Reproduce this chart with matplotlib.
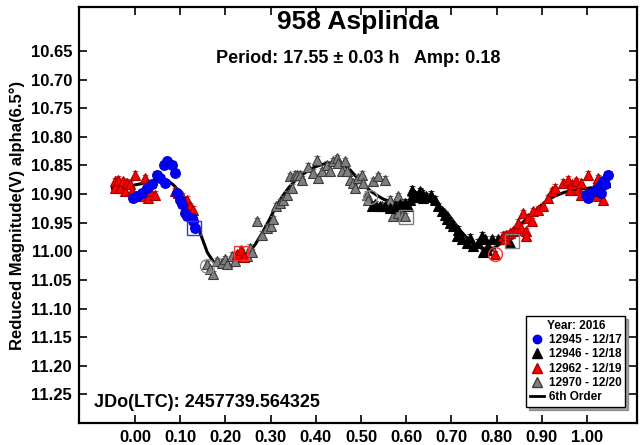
import matplotlib.pyplot as plt
from matplotlib.lines import Line2D

plt.rcParams['font.family'] = ['Liberation Sans', 'DejaVu Sans']
plt.rcParams['font.weight'] = 'bold'

# 12945 - 12/17
blue_ph = [-0.004, 0.004, 0.015, 0.026, 0.037, 0.048, 0.055, 0.063, 0.066, 0.070,
           0.081, 0.088, 0.092, 0.100, 0.103, 0.111, 0.114, 0.125, 0.129, 0.133,
           0.999, 1.003, 1.010, 1.021, 1.029, 1.032, 1.036, 1.040, 1.047]
blue_mag = [10.907, 10.904, 10.898, 10.889, 10.883, 10.866, 10.872, 10.849, 10.880, 10.843,
            10.849, 10.863, 10.898, 10.910, 10.918, 10.933, 10.939, 10.941, 10.947, 10.960,
            10.901, 10.907, 10.898, 10.892, 10.886, 10.898, 10.878, 10.883, 10.866]

# 12946 - 12/18
black_ph = [0.524, 0.531, 0.542, 0.553, 0.564, 0.575, 0.586, 0.597, 0.605, 0.608,
            0.612, 0.619, 0.631, 0.634, 0.638, 0.645, 0.656, 0.664, 0.671, 0.679,
            0.686, 0.690, 0.697, 0.704, 0.712, 0.715, 0.723, 0.734, 0.741, 0.748,
            0.759, 0.767, 0.771, 0.774, 0.778, 0.782, 0.789, 0.804, 0.815, 0.822,
            0.830]
black_mag = [10.921, 10.918, 10.921, 10.921, 10.924, 10.921, 10.918, 10.915, 10.921, 10.910,
             10.892, 10.901, 10.895, 10.898, 10.907, 10.904, 10.901, 10.910, 10.921, 10.930,
             10.936, 10.944, 10.950, 10.956, 10.973, 10.962, 10.979, 10.985, 10.976, 10.991,
             10.985, 10.973, 11.002, 10.979, 10.997, 10.991, 10.979, 10.979, 10.973, 10.979,
             10.985]

# 12962 - 12/19
red_ph = [-0.044, -0.044, -0.037, -0.033, -0.026, -0.022, -0.018, -0.011, -0.007, 0.000,
          0.015, 0.022, 0.026, 0.029, 0.033, 0.044, 0.088, 0.096, 0.103, 0.114,
          0.122, 0.125, 0.129, 0.225, 0.235, 0.242, 0.796, 0.815, 0.819, 0.822,
          0.830, 0.837, 0.844, 0.848, 0.855, 0.859, 0.866, 0.866, 0.870, 0.878,
          0.881, 0.892, 0.903, 0.914, 0.922, 0.929, 0.948, 0.959, 0.962, 0.966,
          0.977, 0.981, 0.988, 0.988, 1.003, 1.014, 1.018, 1.025, 1.025, 1.036]
red_mag = [10.878, 10.889, 10.875, 10.889, 10.878, 10.895, 10.880, 10.883, 10.895, 10.866,
           10.904, 10.872, 10.883, 10.907, 10.895, 10.901, 10.895, 10.898, 10.904, 10.910,
           10.921, 10.936, 10.927, 11.005, 10.998, 11.010, 11.005, 10.973, 10.979, 10.971,
           10.968, 10.965, 10.962, 10.950, 10.959, 10.933, 10.965, 10.973, 10.941, 10.947,
           10.930, 10.927, 10.921, 10.907, 10.895, 10.889, 10.880, 10.875, 10.892, 10.883,
           10.878, 10.892, 10.880, 10.901, 10.866, 10.895, 10.886, 10.872, 10.904, 10.910]

# 12970 - 12/20
gray_ph = [0.159, 0.166, 0.173, 0.181, 0.192, 0.199, 0.203, 0.214, 0.221, 0.236,
           0.247, 0.254, 0.258, 0.269, 0.280, 0.291, 0.302, 0.306, 0.313, 0.321,
           0.328, 0.336, 0.343, 0.347, 0.354, 0.358, 0.365, 0.369, 0.383, 0.394,
           0.402, 0.406, 0.413, 0.424, 0.431, 0.439, 0.446, 0.450, 0.457, 0.465,
           0.468, 0.476, 0.483, 0.487, 0.494, 0.502, 0.505, 0.513, 0.516, 0.527,
           0.538, 0.546, 0.553, 0.564, 0.571, 0.583, 0.583, 0.590, 0.597]
gray_mag = [11.023, 11.031, 11.040, 11.017, 11.020, 11.014, 11.023, 11.008, 11.017, 11.002,
            11.008, 10.994, 11.002, 10.947, 10.971, 10.959, 10.956, 10.944, 10.921, 10.915,
            10.910, 10.901, 10.869, 10.889, 10.866, 10.866, 10.866, 10.875, 10.852, 10.863,
            10.840, 10.872, 10.860, 10.849, 10.860, 10.843, 10.837, 10.846, 10.860, 10.843,
            10.860, 10.875, 10.880, 10.889, 10.872, 10.866, 10.880, 10.901, 10.910, 10.878,
            10.869, 10.921, 10.875, 10.910, 10.939, 10.933, 10.904, 10.936, 10.939]

mag_err = 0.006

# 6th order Fourier fit, sampled along phase
fit_ph = [-0.05, -0.025, 0.0, 0.025, 0.05, 0.07, 0.085, 0.10, 0.115, 0.13,
          0.145, 0.16, 0.175, 0.19, 0.205, 0.22, 0.235, 0.25, 0.265, 0.28,
          0.295, 0.31, 0.325, 0.34, 0.355, 0.37, 0.385, 0.40, 0.415, 0.43,
          0.445, 0.46, 0.475, 0.49, 0.505, 0.52, 0.535, 0.55, 0.57, 0.59,
          0.61, 0.63, 0.65, 0.67, 0.69, 0.705, 0.72, 0.735, 0.75, 0.765,
          0.78, 0.795, 0.81, 0.825, 0.84, 0.855, 0.87, 0.885, 0.90, 0.915,
          0.93, 0.95, 0.97, 0.99, 1.01, 1.03, 1.05]
fit_mag = [10.890, 10.887, 10.884, 10.880, 10.875, 10.875, 10.884, 10.897, 10.915, 10.940,
           10.970, 11.002, 11.020, 11.027, 11.029, 11.024, 11.014, 11.004, 10.989, 10.970,
           10.948, 10.925, 10.905, 10.889, 10.876, 10.866, 10.858, 10.852, 10.848, 10.845,
           10.845, 10.848, 10.857, 10.870, 10.882, 10.894, 10.902, 10.909, 10.914, 10.916,
           10.915, 10.912, 10.912, 10.918, 10.932, 10.948, 10.964, 10.977, 10.987, 10.994,
           10.997, 10.994, 10.986, 10.977, 10.965, 10.952, 10.940, 10.929, 10.919, 10.910,
           10.903, 10.897, 10.893, 10.891, 10.889, 10.888, 10.887]

# flagged points (boxed / circled)
box_ph = [0.130, 0.235, 0.600, 0.835]
box_mag = [10.960, 11.003, 10.940, 10.982]
box_col = ['#3030ff', '#ff3030', '#808080', '#808080']
ring_ph = [0.160, 0.796, 0.520]
ring_mag = [11.025, 11.005, 10.905]
ring_col = ['#909090', '#ff3030', '#909090']

fig = plt.figure(figsize=(6.43, 4.45), dpi=100)
ax = fig.add_axes([0.1229, 0.0494, 0.8678, 0.935])

ax.plot(fit_ph, fit_mag, color='black', lw=2.2, zorder=2)

ax.errorbar(gray_ph, gray_mag, yerr=mag_err, fmt='^', ms=7.5, mfc='#7f7f7f', mec='#3c3c3c',
            mew=0.8, ecolor='#7f7f7f', elinewidth=0.8, capsize=2.5, zorder=3)
ax.errorbar(black_ph, black_mag, yerr=mag_err, fmt='^', ms=7.5, mfc='black', mec='black',
            mew=0.8, ecolor='#404040', elinewidth=0.8, capsize=2.5, zorder=3)
ax.errorbar(red_ph, red_mag, yerr=mag_err, fmt='^', ms=7.5, mfc='#ff0000', mec='#a00000',
            mew=0.8, ecolor='#ff4040', elinewidth=0.8, capsize=2.5, zorder=4)
ax.errorbar(blue_ph, blue_mag, yerr=mag_err, fmt='o', ms=7, mfc='#0000ff', mec='#0000c0',
            mew=0.8, ecolor='#6060ff', elinewidth=0.9, capsize=3, zorder=5)

for p, m, c in zip(box_ph, box_mag, box_col):
    ax.plot(p, m, 's', ms=10, mfc='none', mec=c, mew=1.0, zorder=6)
for p, m, c in zip(ring_ph, ring_mag, ring_col):
    ax.plot(p, m, 'o', ms=10, mfc='none', mec=c, mew=1.0, zorder=6)

ax.set_xlim(-0.124, 1.111)
ax.set_ylim(11.30, 10.573)

xticks = [0.0, 0.1, 0.2, 0.3, 0.4, 0.5, 0.6, 0.7, 0.8, 0.9, 1.0]
yticks = [10.65, 10.70, 10.75, 10.80, 10.85, 10.90, 10.95, 11.00, 11.05, 11.10, 11.15, 11.20, 11.25]
ax.set_xticks(xticks)
ax.set_xticklabels([f'{t:.2f}' for t in xticks])
ax.set_yticks(yticks)
ax.set_yticklabels([f'{t:.2f}' for t in yticks])
ax.tick_params(direction='in', length=6, width=1.2, top=True, right=True,
               labelsize=12, pad=5)
for lab in ax.get_xticklabels() + ax.get_yticklabels():
    lab.set_fontweight('bold')
for sp in ax.spines.values():
    sp.set_linewidth(1.6)

ax.set_ylabel('Reduced Magnitude(V) alpha(6.5°)', fontsize=12, fontweight='bold', labelpad=4)

ax.text(0.5, 0.964, '958 Asplinda', transform=ax.transAxes, ha='center', va='center',
        fontsize=19, fontweight='bold')
ax.text(0.5, 0.877, 'Period: 17.55 ± 0.03 h   Amp: 0.18', transform=ax.transAxes,
        ha='center', va='center', fontsize=13, fontweight='bold')
ax.text(0.027, 0.05, 'JDo(LTC): 2457739.564325', transform=ax.transAxes,
        ha='left', va='center', fontsize=13, fontweight='bold')

handles = [
    Line2D([], [], ls='none', marker='o', ms=6, mfc='#0000ff', mec='#0000c0'),
    Line2D([], [], ls='none', marker='^', ms=6.5, mfc='black', mec='black'),
    Line2D([], [], ls='none', marker='^', ms=6.5, mfc='#ff0000', mec='#a00000'),
    Line2D([], [], ls='none', marker='^', ms=6.5, mfc='#7f7f7f', mec='#3c3c3c'),
    Line2D([], [], color='black', lw=2),
]
labels = ['12945 - 12/17', '12946 - 12/18', '12962 - 12/19', '12970 - 12/20', '6th Order']
leg = ax.legend(handles, labels, title='Year: 2016', loc='lower right',
                bbox_to_anchor=(0.985, 0.03), fancybox=False, shadow=True,
                framealpha=1, edgecolor='black', prop={'weight': 'bold', 'size': 8.5},
                title_fontproperties={'weight': 'bold', 'size': 8.5},
                handlelength=1.2, handletextpad=0.4, labelspacing=0.2,
                borderpad=0.3, borderaxespad=0.3)
leg.get_frame().set_linewidth(1.0)

fig.savefig('out.png', dpi=100)
